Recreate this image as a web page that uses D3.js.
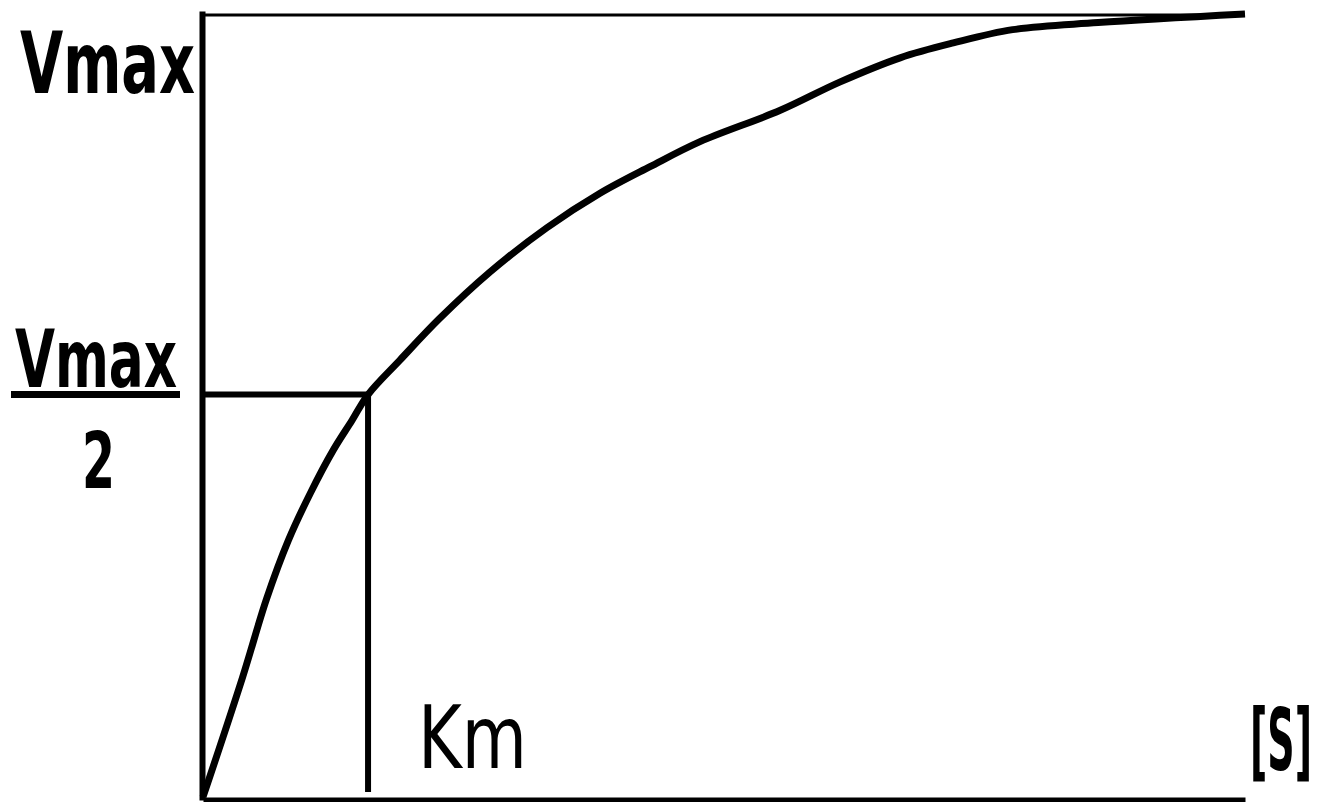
<!DOCTYPE html>
<html>
<head>
<meta charset="utf-8">
<script src="https://cdn.jsdelivr.net/npm/d3@7"></script>
<style>
  body { margin: 0; background: #fff; }
  svg { display: block; }
</style>
</head>
<body>
<svg width="1326" height="802"></svg>
<script>
// substrate concentration [S] (0..100) and reaction rate v as % of Vmax
const sValues = [0, 3.8, 6.1, 8.2, 10.3, 12.5, 14.3, 15.84, 18.9, 22.7, 27.5, 33.0, 38.1, 42.9, 47.7, 55.4, 61.1, 66.9, 72.0, 77.7, 85.9, 100];
const vValues = [0, 15.3, 25.3, 32.8, 38.8, 44.3, 48.1, 51.4, 55.8, 61.1, 67.0, 72.7, 77.1, 80.5, 83.7, 87.7, 91.3, 94.4, 96.3, 98.0, 98.9, 100];
const vmax = 100;
const halfVmax = 51.4;
const km = 15.84;

const svg = d3.select("svg");
const font = "'Liberation Sans Narrow', 'DejaVu Sans Condensed', 'Liberation Sans', Arial, sans-serif";

const x = d3.scaleLinear().domain([0, 100]).range([203, 1245]);
const y = d3.scaleLinear().domain([0, 100]).range([797, 14]);

const points = sValues.map((s, i) => ({ s, v: vValues[i] }));

// axes without ticks
const yAxis = svg.append("g")
  .attr("transform", `translate(${x(0) - 1}, 0)`)
  .call(d3.axisLeft(y).tickValues([]).tickSizeOuter(0));
yAxis.select(".domain")
  .attr("stroke", "#000")
  .attr("stroke-width", 6)
  .attr("stroke-linecap", "square");

const xAxis = svg.append("g")
  .attr("transform", `translate(0, ${y(0) + 2.5})`)
  .call(d3.axisBottom(x).tickValues([]).tickSizeOuter(0));
xAxis.select(".domain")
  .attr("stroke", "#000")
  .attr("stroke-width", 5);

// Vmax line
svg.append("line")
  .attr("x1", x(0)).attr("x2", x(100))
  .attr("y1", y(vmax) + 1).attr("y2", y(vmax) + 1)
  .attr("stroke", "#000")
  .attr("stroke-width", 3);

// Vmax/2 and Km guide lines
svg.append("line")
  .attr("x1", x(0)).attr("x2", x(km))
  .attr("y1", y(halfVmax)).attr("y2", y(halfVmax))
  .attr("stroke", "#000")
  .attr("stroke-width", 6);

svg.append("line")
  .attr("x1", x(km)).attr("x2", x(km))
  .attr("y1", y(halfVmax)).attr("y2", 792)
  .attr("stroke", "#000")
  .attr("stroke-width", 6);

// Michaelis-Menten curve
const line = d3.line()
  .x(d => x(d.s))
  .y(d => y(d.v))
  .curve(d3.curveCatmullRom);

svg.append("path")
  .datum(points)
  .attr("d", line)
  .attr("fill", "none")
  .attr("stroke", "#000")
  .attr("stroke-width", 7)
  .attr("stroke-linejoin", "round");

// labels: squeeze each text horizontally to the width seen in the picture
function label(txt, px, py, size, weight, len) {
  const t = svg.append("text")
    .attr("font-family", font)
    .attr("font-size", size)
    .attr("font-weight", weight)
    .text(txt);
  const w = t.node().getComputedTextLength();
  t.attr("transform", `translate(${px},${py}) scale(${len / w},1)`);
  return t;
}

label("Vmax", 20, 93, 85, "bold", 175);
label("Vmax", 15, 387, 80, "bold", 162);
svg.append("rect")
  .attr("x", 11).attr("y", 391)
  .attr("width", 169).attr("height", 7)
  .attr("fill", "#000");
label("2", 82, 488, 78, "bold", 33);
label("Km", 418, 768, 88, "normal", 109);
label("[S]", 1250, 770, 86, "bold", 62);
</script>
</body>
</html>
